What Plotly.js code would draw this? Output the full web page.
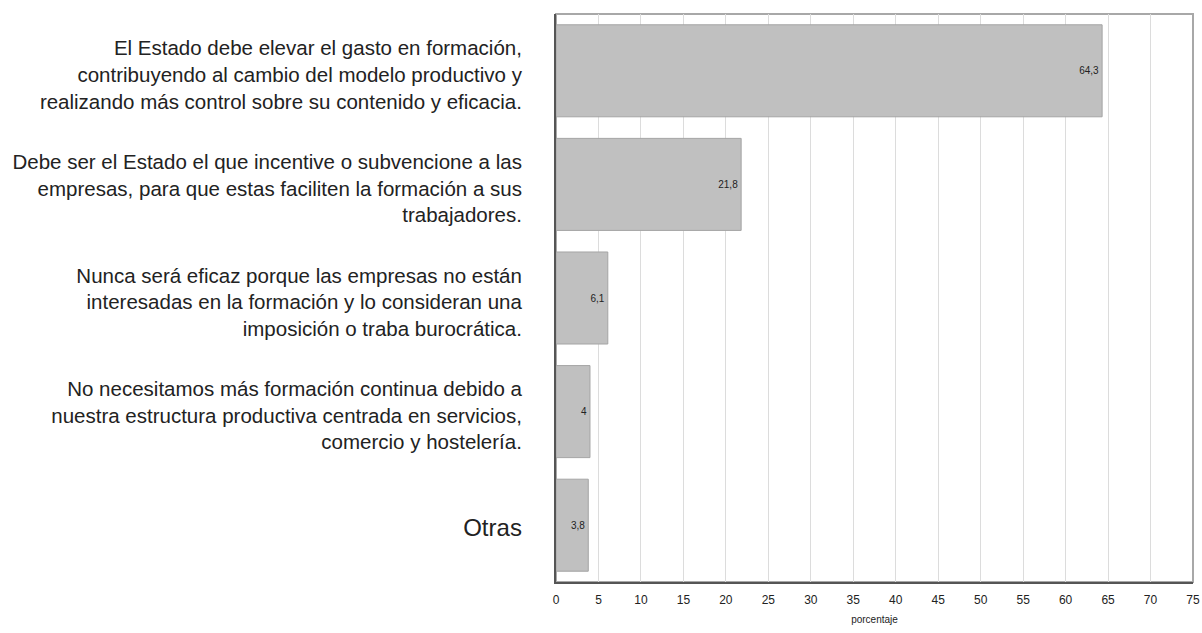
<!DOCTYPE html>
<html>
<head>
<meta charset="utf-8">
<script src="https://cdn.plot.ly/plotly-3.0.1.min.js"></script>
<style>html,body{margin:0;padding:0;background:#fff;}#chart{width:1202px;height:633px;}</style>
</head>
<body>
<div id="chart"></div>
<script>
const categories = [
  "El Estado debe elevar el gasto en formación,<br>contribuyendo al cambio del modelo productivo y<br>realizando más control sobre su contenido y eficacia.",
  "Debe ser el Estado el que incentive o subvencione a las<br>empresas, para que estas faciliten la formación a sus<br>trabajadores.",
  "Nunca será eficaz porque las empresas no están<br>interesadas en la formación y lo consideran una<br>imposición o traba burocrática.",
  "No necesitamos más formación continua debido a<br>nuestra estructura productiva centrada en servicios,<br>comercio y hostelería.",
  "Otras"
];
const values = [64.3, 21.8, 6.1, 4, 3.8];
const tickVals = [0, 5, 10, 15, 20, 25, 30, 35, 40, 45, 50, 55, 60, 65, 70, 75];
const axisTitle = "porcentaje";

const tickText = categories.map(c => c === "Otras"
  ? '<span style="font-size:24px">' + c + '</span>'
  : c);

const trace = {
  type: 'bar',
  orientation: 'h',
  x: values,
  y: categories,
  text: values.map(v => String(v).replace('.', ',')),
  textposition: 'inside',
  insidetextanchor: 'end',
  textangle: 0,
  insidetextfont: {family: "'Liberation Sans', Arial", size: 10, color: '#222'},
  marker: {color: '#c0c0c0', line: {color: '#a4a4a4', width: 1}},
  width: 0.81,
  cliponaxis: false,
  hoverinfo: 'none'
};

const layout = {
  width: 1202, height: 633,
  margin: {l: 556, r: 9, t: 14, b: 51},
  paper_bgcolor: '#fff', plot_bgcolor: '#fff',
  showlegend: false,
  font: {family: "'Liberation Sans', Arial", color: '#222'},
  xaxis: {
    range: [0, 75],
    tickvals: tickVals,
    ticktext: tickVals.map(String),
    showgrid: true, gridcolor: '#dcdcdc', gridwidth: 1,
    zeroline: false,
    showline: true, linecolor: '#555', linewidth: 2,
    ticks: '',
    ticklabelstandoff: 6,
    tickfont: {size: 12, color: '#222'},
    title: {text: axisTitle, font: {size: 10, color: '#222'}, standoff: 10},
    fixedrange: true
  },
  yaxis: {
    type: 'category',
    autorange: 'reversed',
    categoryorder: 'array', categoryarray: categories,
    tickvals: categories, ticktext: tickText,
    showgrid: false, zeroline: false,
    showline: true, linecolor: '#555', linewidth: 2,
    ticks: '',
    ticklabelstandoff: 28,
    ticklabelshift: -4,
    tickfont: {size: 20.5, color: '#222'},
    fixedrange: true
  },
  shapes: [{
    type: 'rect', xref: 'paper', yref: 'paper', x0: 0, x1: 1, y0: 0, y1: 1,
    line: {color: '#a8a8a8', width: 2}, layer: 'below'
  }]
};

Plotly.newPlot('chart', [trace], layout, {displayModeBar: false, staticPlot: true});
</script>
</body>
</html>
